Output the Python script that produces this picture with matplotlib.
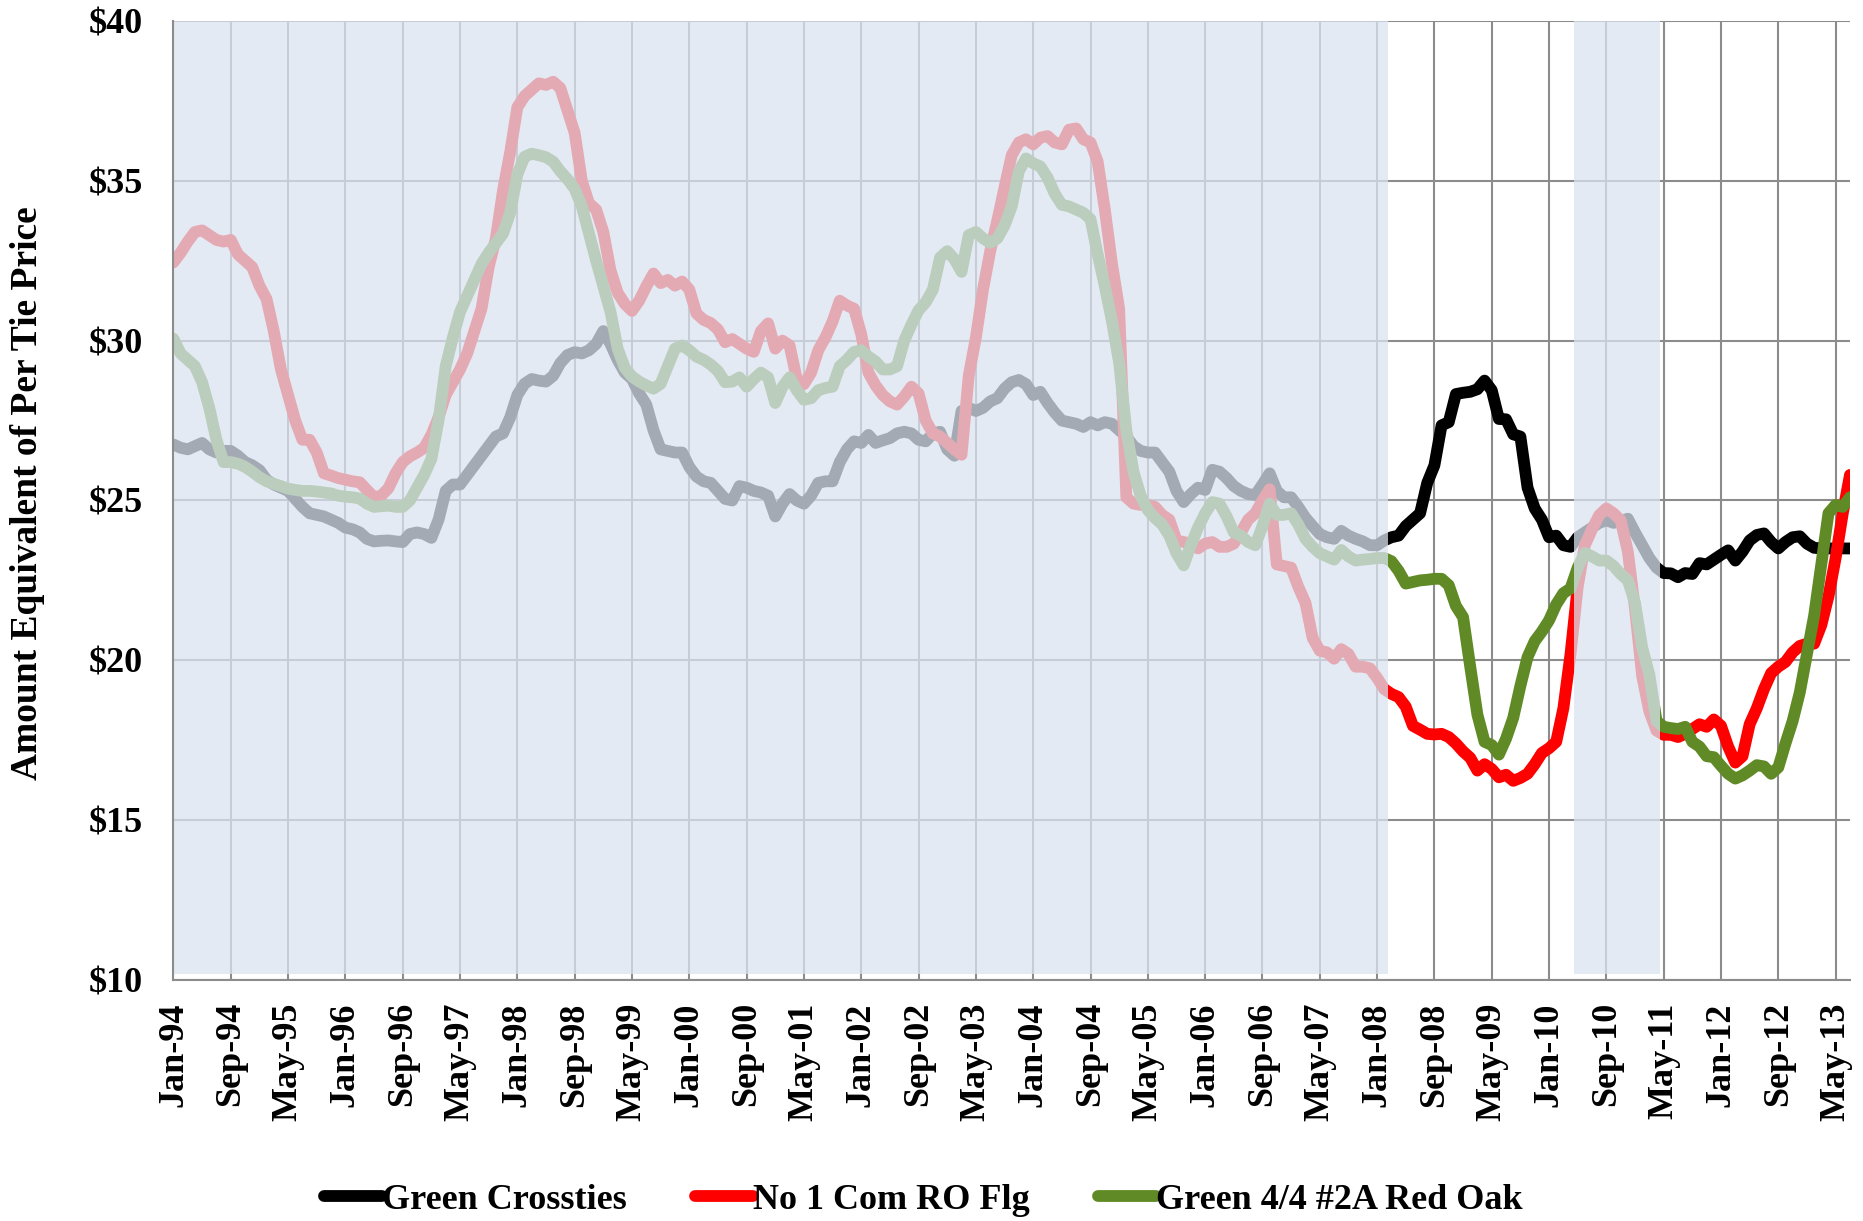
# Crosstie vs. red oak lumber prices, Jan-94 to Jul-13

import numpy as np
import matplotlib.pyplot as plt

# monthly values, month 0 = Jan-94
crossties = [
    26.75, 26.65, 26.6, 26.7, 26.8, 26.6, 26.5, 26.55, 26.55, 26.4,
    26.2, 26.1, 25.95, 25.65, 25.5, 25.4, 25.3, 25.05, 24.8, 24.6,
    24.55, 24.5, 24.4, 24.3, 24.15, 24.1, 24.0, 23.8, 23.72, 23.74,
    23.75, 23.72, 23.7, 23.95, 24.0, 23.95, 23.83, 24.4, 25.3, 25.5,
    25.5, 25.8, 26.1, 26.4, 26.7, 27.0, 27.1, 27.6, 28.3, 28.65,
    28.8, 28.75, 28.72, 28.9, 29.3, 29.55, 29.64, 29.6, 29.7, 29.9,
    30.3, 29.9, 29.4, 29.0, 28.8, 28.35, 28.0, 27.2, 26.6, 26.55,
    26.5, 26.5, 26.05, 25.75, 25.6, 25.55, 25.3, 25.05, 25.0, 25.45,
    25.4, 25.3, 25.25, 25.15, 24.5, 24.9, 25.2, 25.0, 24.9, 25.15,
    25.55, 25.6, 25.6, 26.2, 26.6, 26.85, 26.8, 27.05, 26.8, 26.88,
    26.95, 27.1, 27.15, 27.1, 26.9, 26.85, 27.1, 27.15, 26.6, 26.4,
    27.8, 27.9, 27.8, 27.9, 28.1, 28.2, 28.5, 28.7, 28.77, 28.64,
    28.3, 28.4, 28.05, 27.75, 27.5, 27.45, 27.4, 27.3, 27.45, 27.35,
    27.45, 27.4, 27.2, 27.0, 26.7, 26.55, 26.5, 26.5, 26.2, 25.9,
    25.3, 24.95, 25.2, 25.4, 25.33, 25.96, 25.9, 25.7, 25.45, 25.3,
    25.2, 25.17, 25.5, 25.85, 25.3, 25.1, 25.1, 24.8, 24.46, 24.2,
    23.95, 23.85, 23.8, 24.05, 23.9, 23.8, 23.72, 23.6, 23.6, 23.75,
    23.85, 23.9, 24.2, 24.4, 24.6, 25.55, 26.1, 27.35, 27.45, 28.33,
    28.37, 28.4, 28.48, 28.75, 28.45, 27.55, 27.54, 27.07, 27.0, 25.4,
    24.75, 24.4, 23.85, 23.9, 23.6, 23.55, 23.85, 24.0, 24.15, 24.3,
    24.38, 24.3, 24.35, 24.43, 24.0, 23.6, 23.2, 22.9, 22.73, 22.72,
    22.6, 22.73, 22.7, 23.04, 23.0, 23.15, 23.3, 23.44, 23.12, 23.4,
    23.75, 23.92, 23.97, 23.7, 23.5, 23.7, 23.85, 23.88, 23.65, 23.52,
    23.5, 23.5, 23.5, 23.5, 23.5]

ro_flooring = [
    32.45, 32.75, 33.1, 33.4, 33.45, 33.3, 33.15, 33.1, 33.15, 32.7,
    32.5, 32.3, 31.72, 31.3, 30.3, 29.1, 28.3, 27.5, 26.9, 26.9,
    26.5, 25.85, 25.78, 25.7, 25.65, 25.6, 25.57, 25.33, 25.1, 25.15,
    25.38, 25.85, 26.2, 26.38, 26.5, 26.65, 27.05, 27.6, 28.3, 28.7,
    29.1, 29.6, 30.3, 31.0, 32.3, 33.2, 34.7, 35.9, 37.3, 37.65,
    37.85, 38.05, 38.0, 38.1, 37.9, 37.2, 36.5, 35.0, 34.3, 34.1,
    33.4, 32.2, 31.5, 31.15, 30.93, 31.25, 31.7, 32.1, 31.8, 31.9,
    31.72, 31.85, 31.6, 30.85, 30.65, 30.55, 30.35, 29.95, 30.05, 29.9,
    29.75, 29.65, 30.3, 30.54, 29.75, 30.0, 29.85, 28.8, 28.64, 29.0,
    29.7, 30.1, 30.6, 31.25, 31.1, 31.0, 30.2, 29.0, 28.6, 28.3,
    28.1, 28.0, 28.25, 28.56, 28.35, 27.5, 27.1, 27.0, 26.8, 26.6,
    26.43, 28.9, 30.1, 31.6, 32.8, 33.77, 34.8, 35.8, 36.2, 36.3,
    36.14, 36.35, 36.4, 36.2, 36.14, 36.6, 36.64, 36.3, 36.2, 35.6,
    34.1, 32.4, 31.0, 25.1, 24.9, 24.86, 24.86, 24.8, 24.55, 24.4,
    23.75, 23.7, 23.65, 23.5, 23.65, 23.7, 23.55, 23.55, 23.65, 24.0,
    24.4, 24.6, 25.0, 25.35, 23.0, 22.95, 22.9, 22.3, 21.8, 20.7,
    20.3, 20.25, 20.05, 20.35, 20.2, 19.8, 19.8, 19.75, 19.45, 19.1,
    18.95, 18.85, 18.55, 17.95, 17.83, 17.7, 17.68, 17.7, 17.6, 17.4,
    17.15, 16.95, 16.55, 16.75, 16.6, 16.34, 16.42, 16.23, 16.32, 16.45,
    16.75, 17.1, 17.25, 17.45, 18.5, 20.2, 22.3, 23.6, 24.1, 24.54,
    24.75, 24.6, 24.38, 23.4, 21.6, 19.5, 18.4, 17.8, 17.67, 17.67,
    17.6, 17.7, 17.85, 18.0, 17.92, 18.15, 17.95, 17.3, 16.8, 17.0,
    18.0, 18.5, 19.1, 19.6, 19.8, 19.95, 20.25, 20.45, 20.52, 20.52,
    21.1, 22.0, 23.2, 24.6, 25.8]

red_oak = [
    30.06, 29.6, 29.4, 29.2, 28.7, 27.9, 26.9, 26.2, 26.2, 26.15,
    26.05, 25.9, 25.73, 25.6, 25.52, 25.45, 25.37, 25.33, 25.3, 25.3,
    25.28, 25.25, 25.22, 25.15, 25.12, 25.1, 25.06, 24.9, 24.8, 24.82,
    24.84, 24.8, 24.8, 25.0, 25.4, 25.8, 26.3, 27.5, 29.2, 30.1,
    30.9, 31.4, 31.9, 32.4, 32.75, 33.05, 33.35, 34.0, 35.2, 35.75,
    35.85, 35.8, 35.74, 35.6, 35.3, 35.05, 34.75, 34.2, 33.35, 32.5,
    31.7, 30.9, 29.75, 29.15, 28.88, 28.72, 28.6, 28.5, 28.65, 29.2,
    29.75, 29.85, 29.7, 29.5, 29.4, 29.25, 29.05, 28.7, 28.72, 28.85,
    28.56, 28.8, 29.0, 28.85, 28.05, 28.55, 28.85, 28.45, 28.15, 28.2,
    28.45, 28.52, 28.56, 29.2, 29.4, 29.65, 29.7, 29.5, 29.35, 29.1,
    29.1, 29.2, 30.0, 30.5, 30.95, 31.2, 31.6, 32.6, 32.8, 32.55,
    32.15, 33.3, 33.4, 33.2, 33.06, 33.2, 33.6, 34.2, 35.3, 35.7,
    35.55, 35.45, 35.1, 34.6, 34.25, 34.2, 34.1, 34.0, 33.8, 32.7,
    31.7, 30.6, 29.3, 27.2, 25.9, 25.15, 24.7, 24.45, 24.25, 23.9,
    23.35, 22.97, 23.6, 24.15, 24.6, 24.95, 24.9, 24.5, 24.0, 23.9,
    23.7, 23.6, 24.2, 24.9, 24.55, 24.55, 24.6, 24.25, 23.8, 23.55,
    23.35, 23.25, 23.15, 23.45, 23.25, 23.12, 23.15, 23.17, 23.2, 23.2,
    23.1, 22.8, 22.4, 22.45, 22.5, 22.52, 22.55, 22.55, 22.35, 21.7,
    21.35, 19.8, 18.3, 17.45, 17.35, 17.05, 17.55, 18.2, 19.2, 20.1,
    20.6, 20.9, 21.25, 21.75, 22.1, 22.25, 22.9, 23.36, 23.25, 23.12,
    23.12, 22.95, 22.7, 22.5, 21.8, 20.4, 19.55, 18.1, 17.92, 17.88,
    17.85, 17.92, 17.45, 17.3, 17.0, 16.97, 16.7, 16.45, 16.3, 16.4,
    16.55, 16.72, 16.68, 16.45, 16.65, 17.4, 18.1, 19.0, 20.2, 21.4,
    23.0, 24.6, 24.86, 24.8, 25.1]

tick_labels = ['Jan-94', 'Sep-94', 'May-95', 'Jan-96', 'Sep-96', 'May-97',
               'Jan-98', 'Sep-98', 'May-99', 'Jan-00', 'Sep-00', 'May-01',
               'Jan-02', 'Sep-02', 'May-03', 'Jan-04', 'Sep-04', 'May-05',
               'Jan-06', 'Sep-06', 'May-07', 'Jan-08', 'Sep-08', 'May-09',
               'Jan-10', 'Sep-10', 'May-11', 'Jan-12', 'Sep-12', 'May-13']

# shaded periods (first and last month index of each)
shade_first = [0, 196]
shade_last = [169, 207]

plt.rcParams['font.family'] = ['Liberation Serif', 'DejaVu Serif']

fig = plt.figure(figsize=(18.63, 12.21), dpi=100)
ax = fig.add_axes([0.0931, 0.1974, 0.8999, 0.7854])

months = np.arange(len(crossties))
line_kw = dict(lw=8.5, solid_joinstyle='round', solid_capstyle='round', zorder=2)
ax.plot(months, crossties, color='black', label='Green Crossties', **line_kw)
ax.plot(months, ro_flooring, color='#ff0000', label='No 1 Com RO Flg', **line_kw)
ax.plot(months, red_oak, color='#5f8a25', label='Green 4/4 #2A Red Oak', **line_kw)

# pale blue veil over the shaded periods
for a, b in zip(shade_first, shade_last):
    ax.fill_between([a - 0.5, b + 0.5], 10.18, 40, color=(0.857, 0.894, 0.947),
                    alpha=0.75, lw=0, zorder=3)

ax.set_xlim(0, len(crossties) - 1)
ax.set_ylim(10, 40)
ax.set_xticks(np.arange(len(tick_labels)) * 8)
ax.set_xticklabels(tick_labels, rotation=90, fontsize=26, fontweight='bold')
ax.set_yticks([10, 15, 20, 25, 30, 35, 40])
ax.set_yticklabels(['$10', '$15', '$20', '$25', '$30', '$35', '$40'],
                   fontsize=26, fontweight='bold')
ax.tick_params(axis='x', length=0, pad=16)
ax.tick_params(axis='y', length=0, pad=22)

ax.grid(True, color='#8c8c8c', lw=1.5, zorder=1)
ax.set_axisbelow(True)
for s in ['top', 'right']:
    ax.spines[s].set_visible(False)
for s in ['left', 'bottom']:
    ax.spines[s].set_color('#8c8c8c')
    ax.spines[s].set_linewidth(1.5)
    ax.spines[s].set_zorder(4)

ax.set_ylabel('Amount Equivalent of Per Tie Price', fontsize=27, fontweight='bold')
ax.yaxis.set_label_coords(-0.0766, 0.508)

fig.legend(loc='center', bbox_to_anchor=(0.4956, 0.017), ncol=3, frameon=False,
           handlelength=1.6, handletextpad=0.0, columnspacing=1.9,
           prop=dict(weight='bold', size=26))

fig.savefig('out.png', dpi=100)
